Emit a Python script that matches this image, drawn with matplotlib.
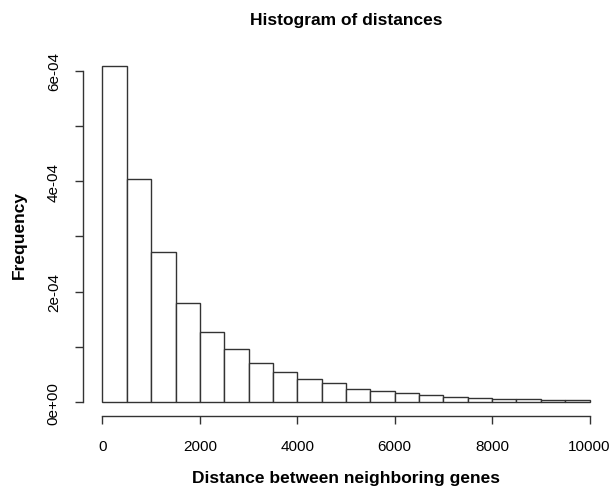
import matplotlib
matplotlib.use("Agg")
import matplotlib.pyplot as plt
import numpy as np

plt.rcParams["font.family"] = ["Liberation Sans", "DejaVu Sans"]

# histogram bins of width 500 from 0 to 10000, density values
bin_edges = list(range(0, 10001, 500))
density = [
    6.08e-4, 4.04e-4, 2.72e-4, 1.80e-4, 1.275e-4,
    0.96e-4, 0.707e-4, 0.55e-4, 0.417e-4, 0.35e-4,
    0.235e-4, 0.193e-4, 0.17e-4, 0.12e-4, 0.097e-4,
    0.072e-4, 0.06e-4, 0.054e-4, 0.043e-4, 0.04e-4,
]
x_ticks = [0, 2000, 4000, 6000, 8000, 10000]
y_ticks = [0, 1e-4, 2e-4, 3e-4, 4e-4, 5e-4, 6e-4]
y_tick_labels = ["0e+00", "", "2e-04", "", "4e-04", "", "6e-04"]

W, H = 611, 489
ax_left, ax_right, ax_top, ax_bottom = 83, 609, 54, 416.5

fig = plt.figure(figsize=(W / 100, H / 100), dpi=100)
ax = fig.add_axes([ax_left / W, 1 - ax_bottom / H,
                   (ax_right - ax_left) / W, (ax_bottom - ax_top) / H])

left = np.array(bin_edges[:-1])
widths = np.diff(bin_edges)
ax.bar(left, density, width=widths, align="edge", facecolor="white",
       edgecolor="#333333", linewidth=1.0)

# R-style 4% padding on both axes
ymax = max(density)
ax.set_xlim(-0.04 * 10000, 1.04 * 10000)
ax.set_ylim(-0.04 * ymax, 1.04 * ymax)

for side in ["top", "right"]:
    ax.spines[side].set_visible(False)
ax.spines["left"].set_bounds(0, 6e-4)
ax.spines["bottom"].set_bounds(0, 10000)
for side in ["left", "bottom"]:
    ax.spines[side].set_color("#333333")
    ax.spines[side].set_linewidth(1.0)

ax.set_xticks(x_ticks)
ax.set_xticklabels([str(t) for t in x_ticks])
ax.set_yticks(y_ticks)
ax.set_yticklabels(y_tick_labels, rotation=90, va="center")
ax.tick_params(axis="both", direction="out", length=6, width=1.0,
               color="#333333", labelsize=11)
ax.tick_params(axis="x", pad=11)
ax.tick_params(axis="y", pad=10)

plot_h = ax_bottom - ax_top
plot_w = ax_right - ax_left
ax.set_xlabel("Distance between neighboring genes", fontsize=12.5, fontweight="bold")
ax.xaxis.set_label_coords(0.5, (ax_bottom - 479) / plot_h)
ax.xaxis.label.set_verticalalignment("center")
ax.set_ylabel("Frequency", fontsize=12.5, fontweight="bold")
ax.yaxis.set_label_coords((19 - ax_left) / plot_w, 0.5)
ax.yaxis.label.set_verticalalignment("center")

fig.text((ax_left + ax_right) / 2 / W, 1 - 20 / H, "Histogram of distances",
         ha="center", va="center", fontsize=12.5, fontweight="bold")

fig.savefig("out.png", dpi=100, facecolor="white")
